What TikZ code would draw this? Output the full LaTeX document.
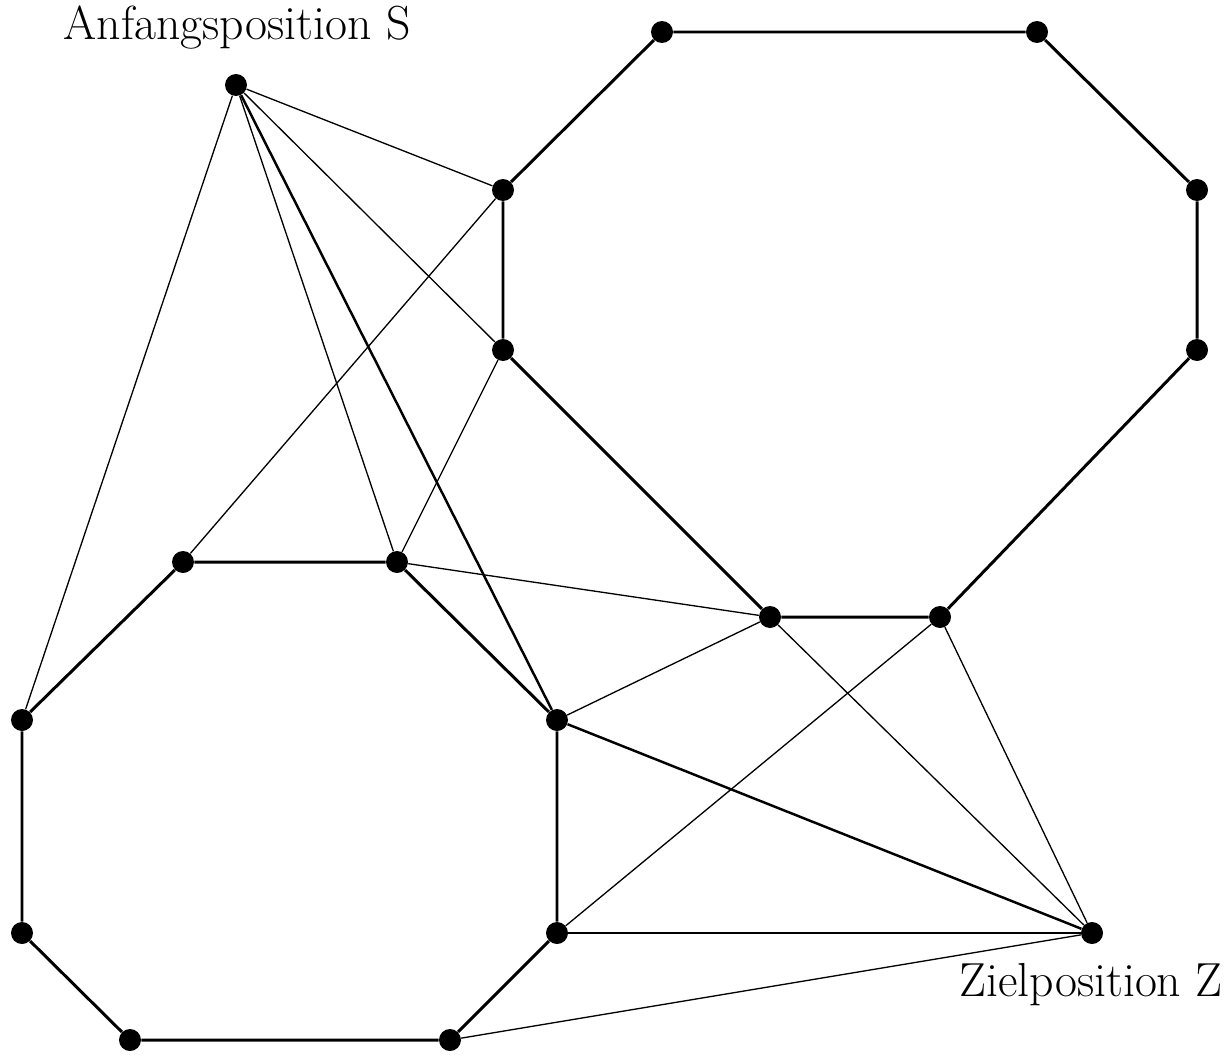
\documentclass[tikz,border=0pt]{standalone}
\begin{document}
\begin{tikzpicture}[x=0.02cm,y=-0.02cm,
  vertex/.style={circle,fill=black,inner sep=0pt,minimum size=0.44cm},
  wall/.style={line width=1.7pt},
  sight/.style={line width=0.75pt},
  route/.style={line width=1.4pt},
  lbl/.style={font=\fontsize{27.2}{32}\selectfont}]
\useasboundingbox (0,0) rectangle (1228,1055);
% start and goal
\node[vertex] (S) at (236,85) {};
\node[vertex] (Z) at (1092,933) {};
% upper obstacle
\node[vertex] (a1) at (662,32) {};
\node[vertex] (a2) at (1037,32) {};
\node[vertex] (a3) at (1197,190) {};
\node[vertex] (a4) at (1197,350) {};
\node[vertex] (a5) at (940,617) {};
\node[vertex] (a6) at (770,617) {};
\node[vertex] (a7) at (503,350) {};
\node[vertex] (a8) at (503,190) {};
% lower obstacle
\node[vertex] (b1) at (183,562) {};
\node[vertex] (b2) at (397,562) {};
\node[vertex] (b3) at (557,720) {};
\node[vertex] (b4) at (557,933) {};
\node[vertex] (b5) at (450,1040) {};
\node[vertex] (b6) at (130,1040) {};
\node[vertex] (b7) at (22,933) {};
\node[vertex] (b8) at (22,720) {};
% labels
\node[lbl] (ls) at (237,27) {Anfangsposition S};
\node[lbl] (lz) at (1091,985) {Zielposition Z};
% obstacle edges
\draw[wall] (a1) -- (a2) -- (a3) -- (a4) -- (a5) -- (a6) -- (a7) -- (a8) -- (a1);
\draw[wall] (b1) -- (b2) -- (b3) -- (b4) -- (b5) -- (b6) -- (b7) -- (b8) -- (b1);
% visibility edges
\draw[sight] (S) -- (a8);
\draw[sight] (S) -- (a7);
\draw[sight] (S) -- (b8);
\draw[sight] (S) -- (b2);
\draw[sight] (a8) -- (b1);
\draw[sight] (a7) -- (b2);
\draw[sight] (b2) -- (a6);
\draw[sight] (b3) -- (a6);
\draw[sight] (a6) -- (Z);
\draw[sight] (a5) -- (Z);
\draw[sight] (a5) -- (b4);
\draw[sight] (b4) -- (Z);
\draw[sight] (b5) -- (Z);
% shortest route
\draw[route] (S) -- (b3) -- (Z);
\end{tikzpicture}
\end{document}
